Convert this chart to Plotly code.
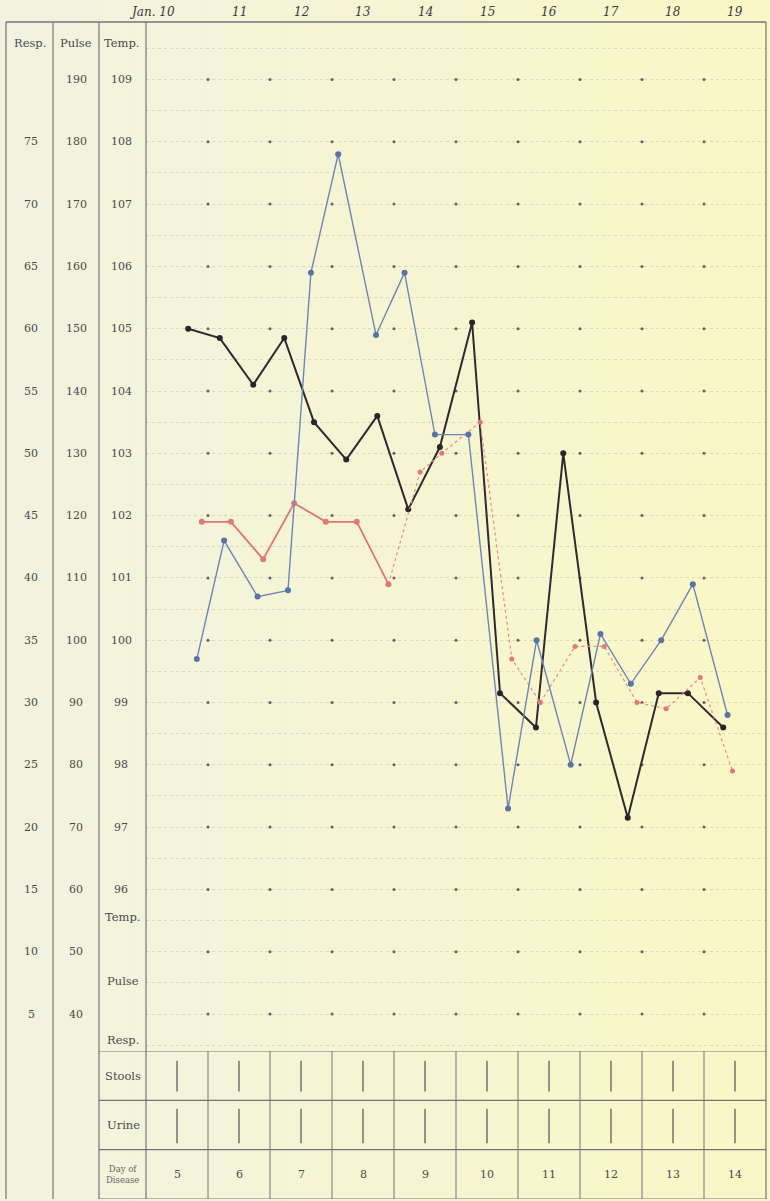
import plotly.graph_objects as go

# ---------------- data ----------------
date_labels = ["Jan. 10", "11", "12", "13", "14", "15", "16", "17", "18", "19"]
date_values = [10, 11, 12, 13, 14, 15, 16, 17, 18, 19]
disease_days = [5, 6, 7, 8, 9, 10, 11, 12, 13, 14]
temp_ticks = [109, 108, 107, 106, 105, 104, 103, 102, 101, 100, 99, 98, 97, 96]
pulse_ticks = [190, 180, 170, 160, 150, 140, 130, 120, 110, 100, 90, 80, 70, 60, 50, 40]
resp_ticks = [75, 70, 65, 60, 55, 50, 45, 40, 35, 30, 25, 20, 15, 10, 5]
stools = [1, 1, 1, 1, 1, 1, 1, 1, 1, 1]
urine = [1, 1, 1, 1, 1, 1, 1, 1, 1, 1]

# Temperature (black), deg F
temp_x = [10.68, 11.19, 11.73, 12.23, 12.71, 13.23, 13.73, 14.23, 14.74, 15.26,
          15.71, 16.29, 16.73, 17.26, 17.77, 18.27, 18.74, 19.31]
temp_y = [105.0, 104.85, 104.1, 104.85, 103.5, 102.9, 103.6, 102.1, 103.1, 105.1,
          99.15, 98.6, 103.0, 99.0, 97.15, 99.15, 99.15, 98.6]

# Pulse (red)
pulse_x = [10.90, 11.37, 11.89, 12.39, 12.90, 13.40, 13.91, 14.42, 14.77, 15.39,
           15.90, 16.36, 16.92, 17.39, 17.92, 18.39, 18.94, 19.46]
pulse_y = [119, 119, 113, 122, 119, 119, 109, 127, 130, 135,
           97, 90, 99, 99, 90, 89, 94, 79]

# Respiration (blue)
resp_x = [10.82, 11.26, 11.80, 12.29, 12.66, 13.10, 13.71, 14.17, 14.66, 15.20,
          15.84, 16.30, 16.85, 17.33, 17.82, 18.31, 18.82, 19.38]
resp_y = [33.5, 43, 38.5, 39, 64.5, 74, 59.5, 64.5, 51.5, 51.5,
          21.5, 35, 25, 35.5, 31.5, 35, 39.5, 29]

# ---------------- geometry ----------------
W, H = 770, 1201
X_L, X_R = 146, 766          # chart columns (pixels)
Y_TOP, Y_RB, Y_BOT = 22, 1051, 1199


def px(p):
    return p / W


def py(p):
    return 1 - p / H


def temp_at(pix):
    return 103 - (pix - 453.3) / 62.3


t_range = [temp_at(Y_RB), temp_at(Y_TOP)]
p_range = [90 + (t - 99) * 10 for t in t_range]
r_range = [30 + (t - 99) * 5 for t in t_range]

SERIF = "DejaVu Serif"
INK = "#4e484c"

fig = go.Figure()

# background grid dots at whole degrees / day boundaries
gx, gy = [], []
for t in range(94, 110):
    for d in date_values[1:]:
        gx.append(d)
        gy.append(t)
fig.add_trace(go.Scatter(x=gx, y=gy, mode="markers", yaxis="y",
                         marker=dict(size=3, color="#6e5c62"),
                         hoverinfo="skip", showlegend=False))

# series
fig.add_trace(go.Scatter(x=resp_x, y=resp_y, yaxis="y4", mode="lines+markers",
                         line=dict(color="#6f86b4", width=1.4),
                         marker=dict(size=6, color="#5874a6"),
                         name="Resp.", showlegend=False))

# pulse: solid first part, thinner afterwards
n_solid = 7
fig.add_trace(go.Scatter(x=pulse_x[:n_solid], y=pulse_y[:n_solid], yaxis="y3",
                         mode="lines+markers",
                         line=dict(color="#e07474", width=1.8),
                         marker=dict(size=6, color="#e27878"),
                         name="Pulse", showlegend=False))
fig.add_trace(go.Scatter(x=pulse_x[n_solid - 1:], y=pulse_y[n_solid - 1:], yaxis="y3",
                         mode="lines+markers",
                         line=dict(color="#e58a8a", width=1.2, dash="dot"),
                         marker=dict(size=5, color="#e27878"),
                         name="Pulse", showlegend=False))

fig.add_trace(go.Scatter(x=temp_x, y=temp_y, yaxis="y", mode="lines+markers",
                         line=dict(color="#2f2a30", width=2),
                         marker=dict(size=6, color="#2a2528"),
                         name="Temp.", showlegend=False))

# stools / urine marks in table
sx, sy = [], []
for d, n in zip(date_values, stools):
    for k in range(n):
        sx += [d + 0.5, d + 0.5, None]
        sy += [2.18, 2.8, None]
for d, n in zip(date_values, urine):
    for k in range(n):
        sx += [d + 0.5, d + 0.5, None]
        sy += [1.13, 1.83, None]
fig.add_trace(go.Scatter(x=sx, y=sy, yaxis="y2", mode="lines",
                         line=dict(color="#555055", width=1.2),
                         hoverinfo="skip", showlegend=False))

shapes = []
# background gradient strips
left_c = (241, 243, 224)
right_c = (250, 247, 198)
N = 30
for i in range(N):
    f = i / (N - 1)
    c = tuple(int(round(left_c[j] + (right_c[j] - left_c[j]) * f)) for j in range(3))
    shapes.append(dict(type="rect", xref="paper", yref="paper",
                       x0=i / N, x1=(i + 1) / N + 0.002, y0=0, y1=1,
                       fillcolor="rgb(%d,%d,%d)" % c, line=dict(width=0), layer="below"))

LC = "#77727a"
# frame and left columns
shapes.append(dict(type="line", xref="paper", yref="paper", x0=px(6), x1=px(X_R),
                   y0=py(Y_TOP), y1=py(Y_TOP), line=dict(color=LC, width=1.5)))
for xv in [6, 53, 99, X_L, X_R]:
    shapes.append(dict(type="line", xref="paper", yref="paper", x0=px(xv), x1=px(xv),
                       y0=py(Y_TOP), y1=py(Y_BOT), line=dict(color=LC, width=1.2)))
# table horizontals
for yv in [3, 2, 1, 0]:
    shapes.append(dict(type="line", xref="paper", yref="y2", x0=px(99), x1=px(X_R),
                       y0=yv, y1=yv, line=dict(color=LC, width=1.2)))
for d in date_values[1:]:
    shapes.append(dict(type="line", xref="x", yref="y2", x0=d, x1=d, y0=0, y1=3,
                       line=dict(color=LC, width=1)))

ann = []
lab_font = dict(family=SERIF, size=11.5, color=INK)
num_font = dict(family=SERIF, size=11, color=INK)


def add_text(text, x, y, xref, yref, font, xanchor="center"):
    ann.append(dict(text=text, x=x, y=y, xref=xref, yref=yref, showarrow=False,
                    xanchor=xanchor, yanchor="middle", font=font))


# header
for txt, xv in [("Resp.", 30), ("Pulse", 76), ("Temp.", 122)]:
    add_text(txt, px(xv), py(43), "paper", "paper", lab_font)
# dates
for lab, d in zip(date_labels, date_values):
    add_text("<i>%s</i>" % lab, d + 0.5, py(12), "x", "paper",
             dict(family=SERIF, size=12, color="#3c3840"),
             xanchor="center" if d > 10 else "right")
# scale labels
for t in temp_ticks:
    add_text(str(t), px(121), t, "paper", "y", num_font)
for p in pulse_ticks:
    add_text(str(p), px(76), p, "paper", "y3", num_font)
for r in resp_ticks:
    add_text(str(r), px(31), r, "paper", "y4", num_font)
# lower stub labels
for txt, yv in [("Temp.", 917), ("Pulse", 981), ("Resp.", 1040)]:
    add_text(txt, px(123), py(yv), "paper", "paper", lab_font)
# table labels
add_text("Stools", px(123), 2.5, "paper", "y2", lab_font)
add_text("Urine", px(123), 1.5, "paper", "y2", lab_font)
add_text("Day of<br>Disease", px(122), 0.5, "paper", "y2",
         dict(family=SERIF, size=8.5, color="#6a656a"))
for d, dd in zip(date_values, disease_days):
    add_text(str(dd), d + 0.5, 0.5, "x", "y2", num_font)

fig.update_layout(
    width=W, height=H,
    margin=dict(l=0, r=0, t=0, b=0),
    paper_bgcolor="#f6f5d8",
    plot_bgcolor="rgba(0,0,0,0)",
    shapes=shapes,
    annotations=ann,
    xaxis=dict(domain=[px(X_L), px(X_R)], range=[10, 20], showgrid=False,
               zeroline=False, showticklabels=False, ticks="", anchor="y"),
    yaxis=dict(domain=[py(Y_RB), py(Y_TOP)], range=t_range, dtick=0.5, tick0=96,
               showgrid=True, gridcolor="rgba(120,105,110,0.2)", griddash="dot",
               gridwidth=1, zeroline=False, showticklabels=False, ticks=""),
    yaxis2=dict(domain=[py(Y_BOT), py(Y_RB)], range=[0, 3], anchor="x",
                showgrid=False, zeroline=False, showticklabels=False, ticks=""),
    yaxis3=dict(overlaying="y", range=p_range, visible=False),
    yaxis4=dict(overlaying="y", range=r_range, visible=False),
    showlegend=False,
)

fig.write_html("out.html",
               config={"displayModeBar": False},
               post_script="document.body.style.margin='0px';"
                           "document.body.style.overflow='hidden';")
